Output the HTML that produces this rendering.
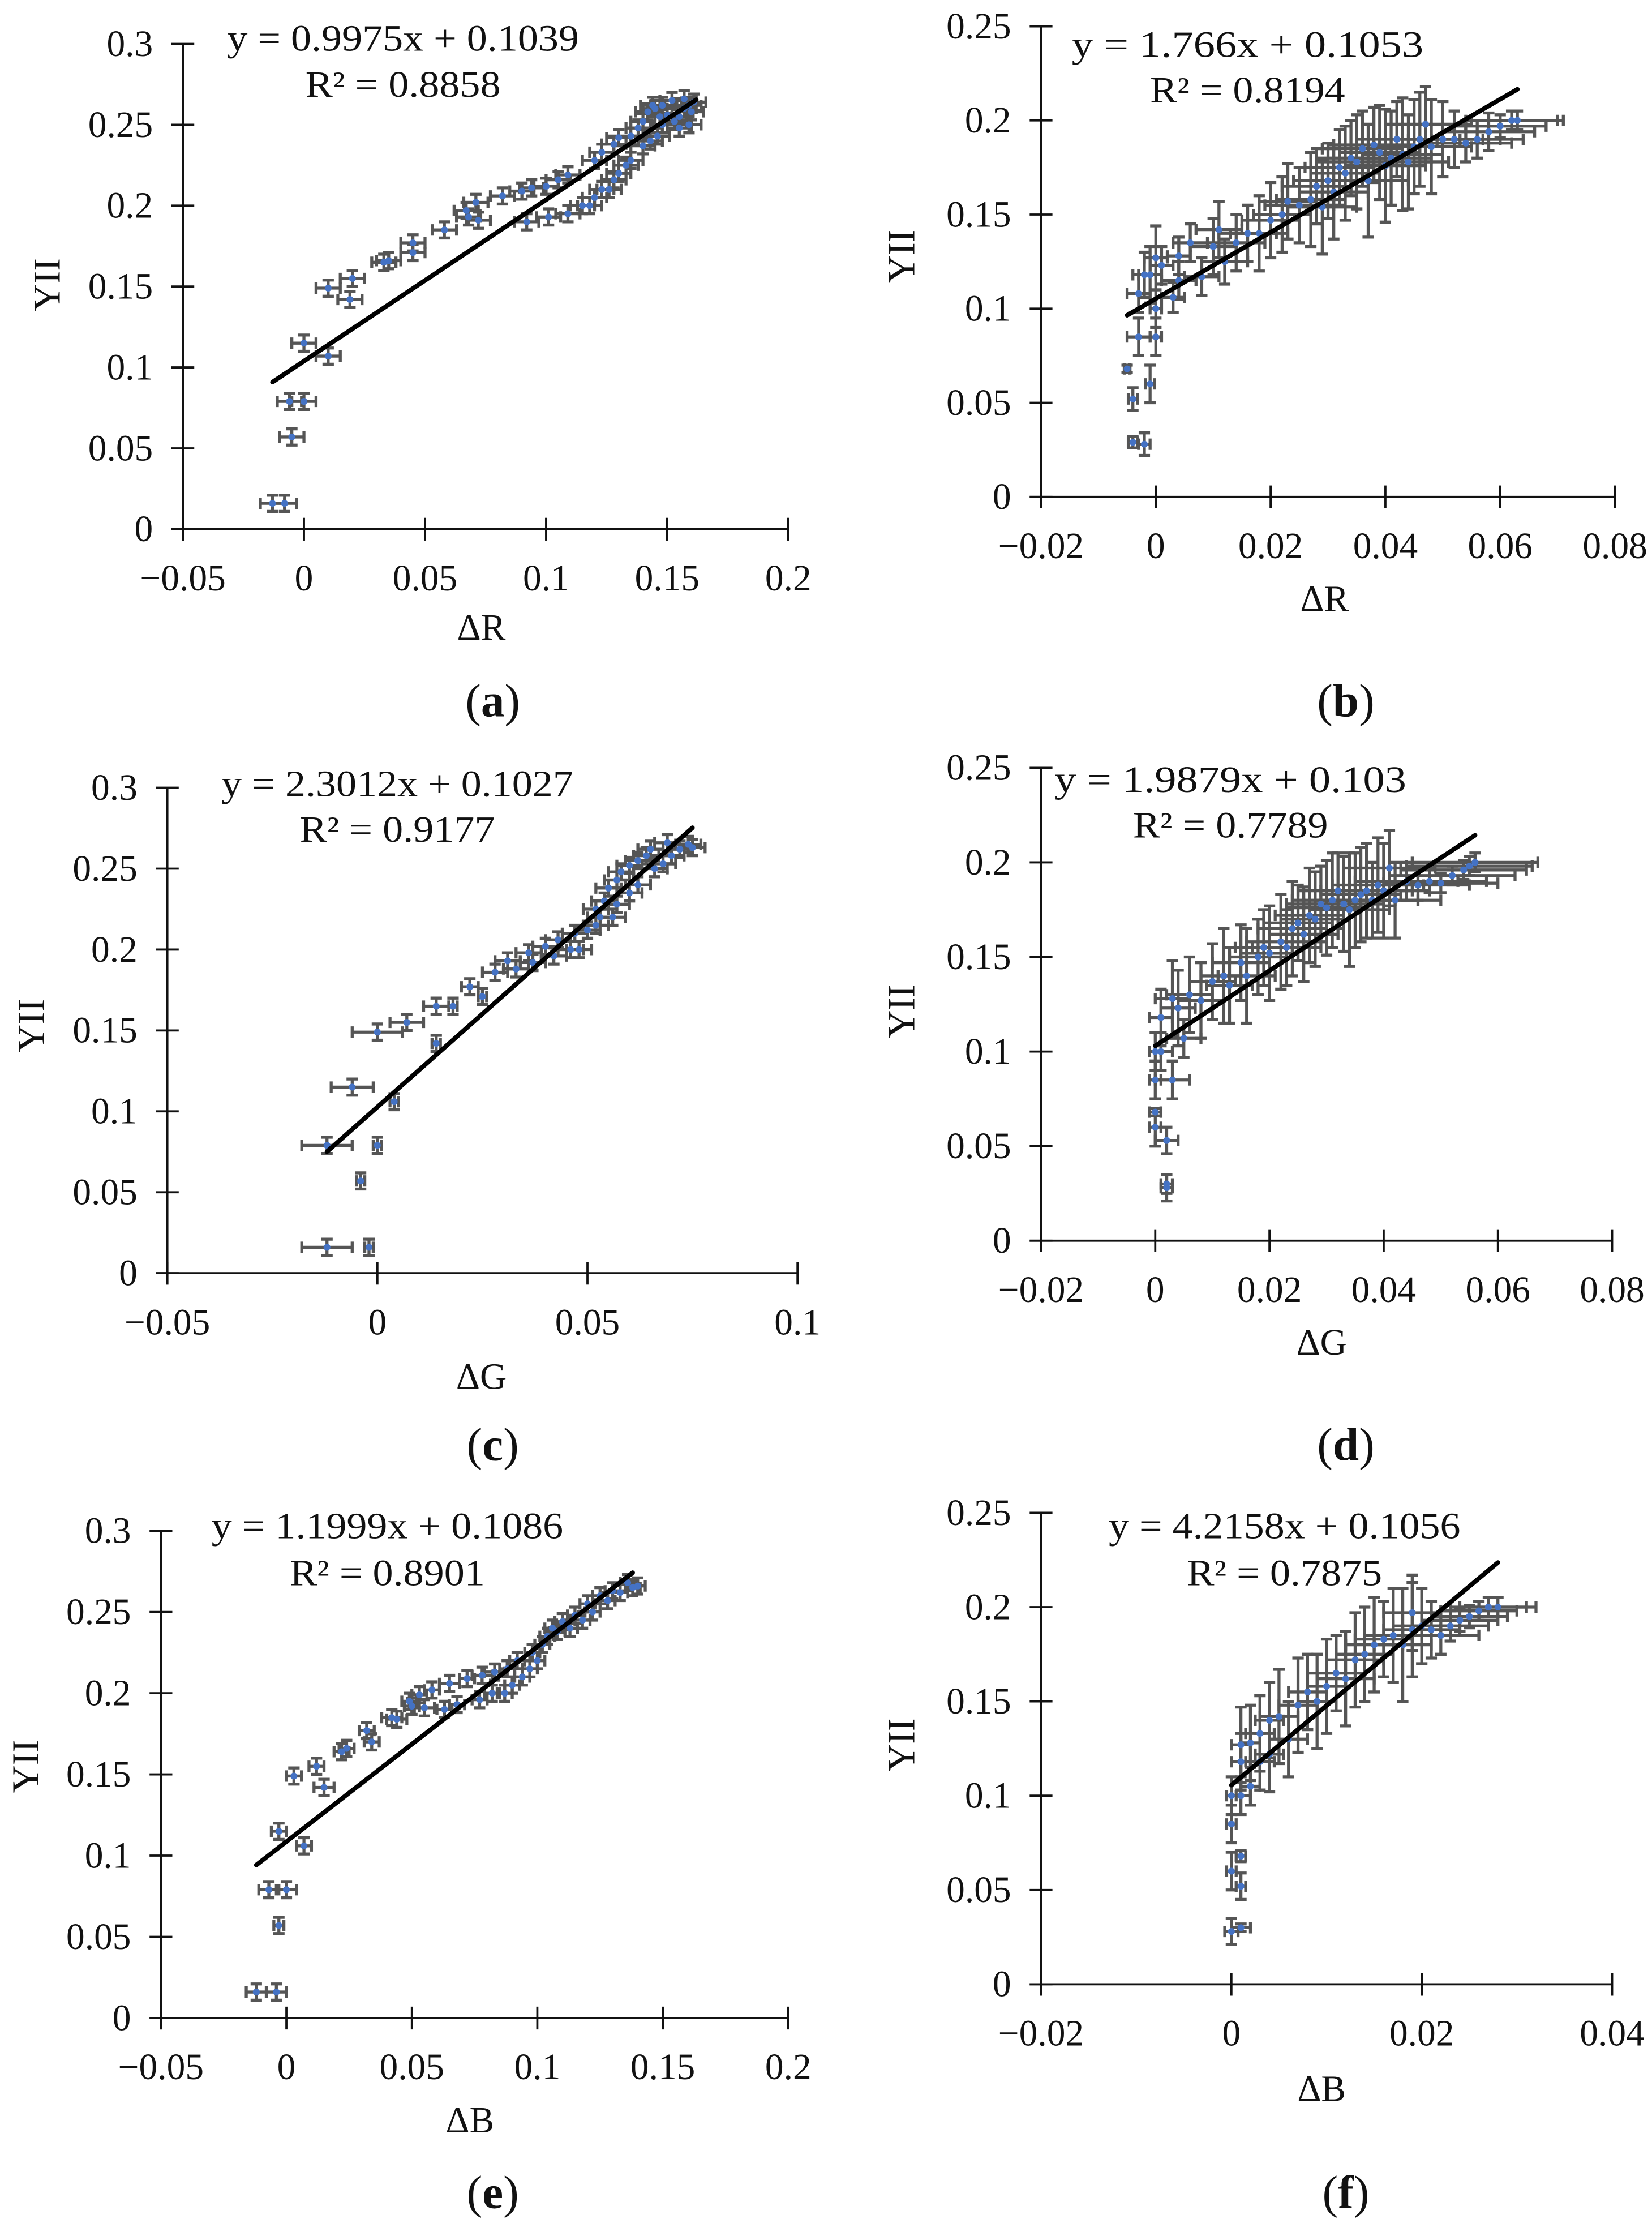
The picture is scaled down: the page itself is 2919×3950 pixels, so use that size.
<!DOCTYPE html>
<html><head><meta charset="utf-8"><style>
html,body{margin:0;padding:0;background:#fff;}
svg{display:block;}
svg text{font-family:"Liberation Serif","Times New Roman",Times,serif;fill:#111;}
</style></head>
<body>
<svg id="fig" width="2919" height="3950" viewBox="0 0 1160 1569.7" preserveAspectRatio="none" xmlns="http://www.w3.org/2000/svg" font-family="Liberation Serif, Times New Roman, serif">
<rect x="0" y="0" width="1160" height="1569.7" fill="#fff"/>
</svg>
<script>
// ---------- data (panel a: YII vs dR) ----------
const aX=[-0.013,-0.008,-0.005,-0.006,0,0,0.01,0.01,0.019,0.02,0.033,0.035,0.045,0.045,0.058,0.067,0.068,0.072,0.071,0.082,0.09,0.094,0.1,0.105,0.109,0.092,0.101,0.109,0.115,0.118,0.12,0.123,0.126,0.128,0.13,0.133,0.135,0.12,0.123,0.128,0.13,0.135,0.138,0.14,0.143,0.146,0.148,0.14,0.142,0.145,0.148,0.15,0.153,0.155,0.157,0.159,0.16,0.161,0.152,0.157,0.144,0.147,0.155,0.159];
const aY=[0.016,0.016,0.057,0.079,0.079,0.115,0.107,0.149,0.142,0.155,0.165,0.166,0.171,0.177,0.185,0.197,0.193,0.191,0.202,0.206,0.209,0.211,0.212,0.216,0.219,0.19,0.193,0.195,0.2,0.2,0.205,0.21,0.21,0.216,0.22,0.225,0.228,0.228,0.233,0.238,0.242,0.243,0.248,0.237,0.24,0.243,0.25,0.252,0.258,0.26,0.262,0.256,0.252,0.255,0.26,0.262,0.258,0.264,0.265,0.266,0.262,0.255,0.248,0.25];
const aEX=[0.005];
const aEY=[0.005];
// ---------- panel b ----------
const bX=[-0.005,-0.004,-0.004,-0.002,-0.001,-0.003,0,0,-0.003,-0.002,-0.001,0,0.001,0.004,0.003,0.004,0.006,0.008,0.01,0.011,0.012,0.014,0.016,0.018,0.02,0.022,0.023,0.025,0.027,0.028,0.029,0.03,0.031,0.032,0.033,0.034,0.035,0.036,0.037,0.038,0.039,0.04,0.041,0.042,0.043,0.044,0.045,0.046,0.047,0.048,0.05,0.052,0.054,0.056,0.058,0.06,0.062,0.063];
const bY=[0.068,0.052,0.029,0.028,0.06,0.085,0.085,0.1,0.108,0.118,0.118,0.127,0.123,0.128,0.106,0.115,0.135,0.117,0.133,0.142,0.125,0.135,0.14,0.14,0.147,0.15,0.157,0.155,0.158,0.165,0.154,0.168,0.162,0.175,0.172,0.18,0.178,0.185,0.168,0.187,0.183,0.176,0.18,0.19,0.182,0.178,0.186,0.19,0.198,0.186,0.19,0.19,0.188,0.19,0.194,0.197,0.2,0.2];
const bEX=[0.0005,0.0008,0.0008,0.001,0.0008,0.002,0.001,0.001,0.002,0.002,0.002,0.002,0.002,0.002,0.002,0.003,0.003,0.003,0.004,0.004,0.004,0.005,0.005,0.005,0.005,0.005,0.005,0.006,0.006,0.006,0.006,0.006,0.006,0.006,0.006,0.006,0.007,0.007,0.007,0.007,0.007,0.007,0.007,0.007,0.007,0.007,0.007,0.007,0.007,0.007,0.007,0.008,0.008,0.008,0.008,0.008,0.008,0.008];
const bEY=[0.002,0.006,0.003,0.006,0.01,0.01,0.01,0.01,0.01,0.012,0.015,0.017,0.01,0.01,0.008,0.01,0.01,0.01,0.015,0.015,0.012,0.015,0.015,0.02,0.02,0.02,0.02,0.02,0.025,0.02,0.025,0.02,0.025,0.02,0.025,0.02,0.025,0.02,0.03,0.02,0.025,0.03,0.025,0.02,0.03,0.025,0.025,0.025,0.02,0.025,0.02,0.015,0.01,0.01,0.01,0.006,0.005,0.005];
// ---------- panel c ----------
const cX=[-0.012,-0.002,-0.004,-0.012,0,-0.006,0.004,0,0.007,0.014,0.014,0.018,0.022,0.025,0.028,0.031,0.033,0.036,0.037,0.04,0.042,0.043,0.046,0.048,0.047,0.05,0.052,0.053,0.052,0.054,0.056,0.057,0.055,0.057,0.058,0.06,0.062,0.06,0.062,0.064,0.065,0.066,0.068,0.07,0.072,0.074,0.075,0.069];
const cY=[0.016,0.016,0.057,0.079,0.079,0.115,0.106,0.149,0.155,0.142,0.165,0.165,0.177,0.171,0.186,0.193,0.188,0.198,0.192,0.202,0.196,0.206,0.2,0.2,0.21,0.212,0.215,0.22,0.225,0.23,0.22,0.228,0.238,0.243,0.248,0.235,0.24,0.252,0.255,0.258,0.262,0.25,0.253,0.258,0.262,0.265,0.263,0.266];
const cEX=[0.006,0.001,0.001,0.006,0.001,0.005,0.001,0.006,0.004,0.001,0.003,0.001,0.002,0.001,0.003,0.003,0.003,0.003,0.003,0.003,0.003,0.003,0.003,0.003,0.003,0.003,0.003,0.003,0.003,0.003,0.003,0.003,0.003,0.003,0.003,0.003,0.003,0.003,0.003,0.003,0.003,0.003,0.003,0.003,0.003,0.003,0.003,0.003];
const cEY=[0.005];
// ---------- panel d ----------
const dX=[0,0,0.002,0.002,0.002,0,0.003,0,0.001,0.001,0.003,0.004,0.005,0.006,0.008,0.01,0.012,0.013,0.015,0.016,0.018,0.019,0.02,0.022,0.023,0.024,0.025,0.026,0.027,0.028,0.029,0.03,0.031,0.032,0.033,0.034,0.035,0.036,0.037,0.038,0.039,0.04,0.041,0.042,0.044,0.046,0.048,0.05,0.052,0.054,0.055,0.056];
const dY=[0.068,0.06,0.053,0.03,0.028,0.085,0.085,0.1,0.1,0.118,0.128,0.123,0.107,0.13,0.127,0.137,0.14,0.135,0.147,0.14,0.15,0.155,0.152,0.158,0.155,0.165,0.168,0.162,0.172,0.17,0.178,0.176,0.18,0.185,0.178,0.175,0.18,0.183,0.185,0.18,0.188,0.185,0.197,0.18,0.19,0.188,0.19,0.189,0.193,0.196,0.198,0.2];
const dEX=[0.001,0.001,0.002,0.001,0.001,0.001,0.003,0.001,0.002,0.002,0.003,0.003,0.003,0.004,0.004,0.004,0.004,0.004,0.005,0.005,0.005,0.005,0.005,0.006,0.006,0.006,0.006,0.006,0.006,0.006,0.006,0.007,0.007,0.007,0.007,0.007,0.007,0.007,0.008,0.008,0.008,0.008,0.008,0.008,0.009,0.009,0.01,0.01,0.011,0.011,0.011,0.011];
const dEY=[0.002,0.01,0.007,0.005,0.007,0.01,0.01,0.01,0.01,0.015,0.02,0.02,0.01,0.02,0.02,0.02,0.025,0.02,0.02,0.025,0.02,0.02,0.025,0.025,0.02,0.025,0.02,0.025,0.025,0.025,0.02,0.025,0.025,0.02,0.025,0.03,0.025,0.025,0.025,0.02,0.025,0.025,0.02,0.02,0.01,0.008,0.006,0.005,0.005,0.005,0.005,0.005];
// ---------- panel e ----------
const eX=[-0.012,-0.004,-0.003,-0.007,0,-0.003,0.007,0.003,0.012,0.015,0.022,0.024,0.032,0.034,0.042,0.044,0.049,0.05,0.053,0.055,0.058,0.063,0.065,0.068,0.072,0.077,0.078,0.082,0.083,0.087,0.088,0.09,0.092,0.094,0.097,0.098,0.1,0.102,0.104,0.106,0.108,0.11,0.113,0.115,0.118,0.12,0.122,0.125,0.128,0.13,0.133,0.136,0.138,0.14];
const eY=[0.016,0.016,0.057,0.079,0.079,0.115,0.106,0.149,0.155,0.142,0.164,0.166,0.177,0.17,0.185,0.184,0.195,0.192,0.199,0.191,0.202,0.19,0.206,0.193,0.209,0.196,0.211,0.2,0.213,0.2,0.215,0.205,0.22,0.21,0.215,0.225,0.22,0.23,0.235,0.24,0.238,0.244,0.24,0.248,0.245,0.255,0.25,0.26,0.257,0.263,0.262,0.268,0.265,0.266];
const eEX=[0.004,0.004,0.002,0.004,0.004,0.003,0.003,0.003,0.003,0.004,0.003,0.003,0.003,0.003,0.004,0.004,0.003,0.003,0.003,0.004,0.003,0.003,0.004,0.003,0.003,0.003,0.004,0.003,0.004,0.003,0.003,0.003,0.003,0.003,0.003,0.003,0.003,0.003,0.003,0.003,0.003,0.003,0.003,0.003,0.003,0.003,0.003,0.003,0.003,0.003,0.003,0.003,0.003,0.003];
const eEY=[0.005];
// ---------- panel f ----------
const fX=[0,0,0.001,0,0.001,0,0.001,0.001,0.001,0.001,0.002,0.002,0.003,0.003,0.004,0.004,0.005,0.006,0.007,0.008,0.009,0.01,0.011,0.012,0.013,0.014,0.015,0.016,0.017,0.018,0.019,0.019,0.02,0.021,0.022,0.023,0.024,0.025,0.026,0.027,0.028];
const fY=[0.1,0.085,0.068,0.06,0.052,0.028,0.03,0.1,0.118,0.127,0.128,0.105,0.133,0.118,0.14,0.122,0.142,0.13,0.148,0.155,0.15,0.158,0.165,0.162,0.172,0.175,0.18,0.183,0.185,0.18,0.197,0.188,0.19,0.188,0.185,0.19,0.193,0.195,0.198,0.2,0.2];
const fEX=[0.0005,0.0005,0.0005,0.0005,0.0005,0.0007,0.001,0.001,0.001,0.001,0.001,0.001,0.0015,0.0015,0.0015,0.0015,0.002,0.002,0.002,0.002,0.002,0.002,0.003,0.003,0.003,0.003,0.003,0.003,0.003,0.003,0.003,0.003,0.003,0.003,0.004,0.004,0.004,0.004,0.004,0.004,0.004];
const fEY=[0.01,0.01,0.003,0.01,0.007,0.007,0.002,0.01,0.015,0.02,0.02,0.01,0.02,0.015,0.02,0.02,0.025,0.02,0.025,0.02,0.025,0.025,0.02,0.025,0.025,0.025,0.025,0.02,0.025,0.03,0.02,0.025,0.02,0.015,0.01,0.008,0.006,0.006,0.005,0.005,0.005];
// ---------- trendlines ----------
const slopes=[0.9975,1.766,2.3012,1.9879,1.1999,4.2158];
const intercepts=[0.1039,0.1053,0.1027,0.103,0.1086,0.1056];
const trendFrom=[-0.013,-0.005,-0.012,0,-0.012,0];
const trendTo=[0.162,0.063,0.075,0.056,0.138,0.028];
const eqLabels=["y = 0.9975x + 0.1039","y = 1.766x + 0.1053","y = 2.3012x + 0.1027","y = 1.9879x + 0.103","y = 1.1999x + 0.1086","y = 4.2158x + 0.1056"];
const r2Labels=["R² = 0.8858","R² = 0.8194","R² = 0.9177","R² = 0.7789","R² = 0.8901","R² = 0.7875"];
// ---------- ticks ----------
const xTicksA=[-0.05,0,0.05,0.1,0.15,0.2];
const xTickLabelsA=["−0.05","0","0.05","0.1","0.15","0.2"];
const xTicksC=[-0.05,0,0.05,0.1];
const xTickLabelsC=["−0.05","0","0.05","0.1"];
const xTicksB=[-0.02,0,0.02,0.04,0.06,0.08];
const xTickLabelsB=["−0.02","0","0.02","0.04","0.06","0.08"];
const xTicksF=[-0.02,0,0.02,0.04];
const xTickLabelsF=["−0.02","0","0.02","0.04"];
const yTicks3=[0,0.05,0.1,0.15,0.2,0.25,0.3];
const yTickLabels3=["0","0.05","0.1","0.15","0.2","0.25","0.3"];
const yTicks25=[0,0.05,0.1,0.15,0.2,0.25];
const yTickLabels25=["0","0.05","0.1","0.15","0.2","0.25"];
const xTitles=["ΔR","ΔR","ΔG","ΔG","ΔB","ΔB"];
const panelLetters=["a","b","c","d","e","f"];

// ---------- layout (pixels in viewBox units) ----------
const layout=[
 {px0:128.4,px1:553.5,xmin:-0.05,xmax:0.2,py0:371.5,py1:30.8,ymax:0.3,ax:283,eqY:35.5,r2Y:68,ytx:33,yty:200,xtx:338,xty:449,lx:346,ly:503},
 {px0:731,px1:1134,xmin:-0.02,xmax:0.08,py0:348.8,py1:18.5,ymax:0.25,ax:876,eqY:40,r2Y:72,ytx:633,yty:180,xtx:930,xty:429,lx:945,ly:503},
 {px0:117.5,px1:560,xmin:-0.05,xmax:0.1,py0:893.8,py1:553,ymax:0.3,ax:279,eqY:559,r2Y:591,ytx:22,yty:720,xtx:338,xty:975,lx:346,ly:1025},
 {px0:731,px1:1132,xmin:-0.02,xmax:0.08,py0:871,py1:539,ymax:0.25,ax:864,eqY:556,r2Y:588,ytx:633,yty:710,xtx:928,xty:951,lx:945,ly:1025},
 {px0:113,px1:553.5,xmin:-0.05,xmax:0.2,py0:1416.7,py1:1074.6,ymax:0.3,ax:272,eqY:1080,r2Y:1113,ytx:18,yty:1240,xtx:330,xty:1497,lx:346,ly:1550},
 {px0:731,px1:1132,xmin:-0.02,xmax:0.04,py0:1393,py1:1062,ymax:0.25,ax:902,eqY:1080,r2Y:1113,ytx:633,yty:1225,xtx:928,xty:1475,lx:945,ly:1550}
];
const seriesX=[aX,bX,cX,dX,eX,fX];
const seriesY=[aY,bY,cY,dY,eY,fY];
const seriesEX=[aEX,bEX,cEX,dEX,eEX,fEX];
const seriesEY=[aEY,bEY,cEY,dEY,eEY,fEY];
const xTickSets=[xTicksA,xTicksB,xTicksC,xTicksB,xTicksA,xTicksF];
const xTickLabelSets=[xTickLabelsA,xTickLabelsB,xTickLabelsC,xTickLabelsB,xTickLabelsA,xTickLabelsF];
const yTickSets=[yTicks3,yTicks25,yTicks3,yTicks25,yTicks3,yTicks25];
const yTickLabelSets=[yTickLabels3,yTickLabels25,yTickLabels3,yTickLabels25,yTickLabels3,yTickLabels25];

const NS="http://www.w3.org/2000/svg";
const FONT="Liberation Serif, Times New Roman, serif";
const svg=document.getElementById('fig');
function mk(tag,parent,attrs){const e=document.createElementNS(NS,tag);for(const k in attrs)e.setAttribute(k,attrs[k]);if(tag==='text')e.setAttribute('font-family',FONT);parent.appendChild(e);return e;}

layout.forEach((L,p)=>{
  const sx=v=>L.px0+(v-L.xmin)/(L.xmax-L.xmin)*(L.px1-L.px0);
  const sy=v=>L.py0+(v/L.ymax)*(L.py1-L.py0);
  const g=mk('g',svg,{});
  
  
  const xa=mk('line',g,{x1:L.px0-8,y1:L.py0,x2:L.px1,y2:L.py0,stroke:'#111','stroke-width':1.5});
  
  
  const ya=mk('line',g,{x1:L.px0,y1:L.py0+8,x2:L.px0,y2:L.py1,stroke:'#111','stroke-width':1.5});
  
  
  xTickSets[p].forEach((v,i)=>{
    const X=sx(v);
    mk('line',g,{x1:X,y1:L.py0-8,x2:X,y2:L.py0+8,stroke:'#111','stroke-width':1.5});
    const t=mk('text',g,{x:X,y:L.py0+43,'text-anchor':'middle','font-size':26});
    t.textContent=xTickLabelSets[p][i];
    
    
  });
  yTickSets[p].forEach((v,i)=>{
    const Y=sy(v);
    mk('line',g,{x1:L.px0-8,y1:Y,x2:L.px0+8,y2:Y,stroke:'#111','stroke-width':1.5});
    const t=mk('text',g,{x:L.px0-21,y:Y+8.5,'text-anchor':'end','font-size':26});
    t.textContent=yTickLabelSets[p][i];
    
    
  });
  const xs=seriesX[p],ys=seriesY[p],exs=seriesEX[p],eys=seriesEY[p];
  const eg=mk('g',g,{stroke:'#555','stroke-width':2.1,fill:'none'});
  
  
  xs.forEach((x,i)=>{
    const y=ys[i],ex=exs.length>1?exs[i]:exs[0],ey=eys.length>1?eys[i]:eys[0];
    const X=sx(x),Y=sy(y),X0=sx(x-ex),X1=sx(x+ex),Y0=sy(y-ey),Y1=sy(y+ey);
    mk('path',eg,{d:`M${X0},${Y}H${X1}M${X0},${Y-4}V${Y+4}M${X1},${Y-4}V${Y+4}M${X},${Y0}V${Y1}M${X-4},${Y0}H${X+4}M${X-4},${Y1}H${X+4}`});
  });
  const mg=mk('g',g,{fill:'#4472C4'});
  
  
  xs.forEach((x,i)=>{
    const c=mk('circle',mg,{cx:sx(x),cy:sy(ys[i]),r:2.4});
    
    
  });
  const tl=mk('line',g,{x1:sx(trendFrom[p]),y1:sy(slopes[p]*trendFrom[p]+intercepts[p]),x2:sx(trendTo[p]),y2:sy(slopes[p]*trendTo[p]+intercepts[p]),stroke:'#000','stroke-width':3.2,'stroke-linecap':'round'});
  
  
  const eq=mk('text',g,{x:L.ax,y:L.eqY,'text-anchor':'middle','font-size':26,textLength:247,lengthAdjust:'spacingAndGlyphs'});
  eq.textContent=eqLabels[p];
  
  
  const r2=mk('text',g,{x:L.ax,y:L.r2Y,'text-anchor':'middle','font-size':26,textLength:137,lengthAdjust:'spacingAndGlyphs'});
  r2.textContent=r2Labels[p];
  
  
  const yt=mk('text',g,{x:L.ytx,y:L.yty,'text-anchor':'middle','font-size':27,transform:`rotate(-90 ${L.ytx} ${L.yty})`,dy:9});
  yt.textContent='YII';
  
  
  const xt=mk('text',g,{x:L.xtx,y:L.xty,'text-anchor':'middle','font-size':26});
  xt.textContent=xTitles[p];
  
  
  const lb=mk('text',g,{x:L.lx,y:L.ly,'text-anchor':'middle','font-size':33});
  
  
  const s1=mk('tspan',lb,{});s1.textContent='(';
  const s2=mk('tspan',lb,{'font-weight':'bold'});s2.textContent=panelLetters[p];
  const s3=mk('tspan',lb,{});s3.textContent=')';
});
</script>
</body></html>
